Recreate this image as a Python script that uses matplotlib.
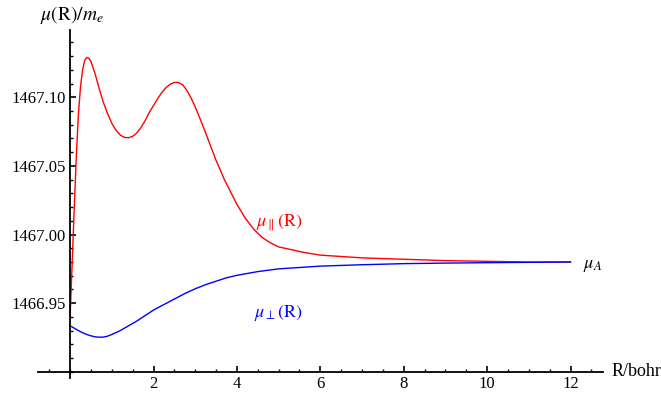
import numpy as np
import matplotlib.pyplot as plt
from matplotlib.ticker import MultipleLocator, FixedLocator

plt.rcParams['font.family'] = ['Liberation Serif', 'DejaVu Serif']
plt.rcParams['mathtext.fontset'] = 'stix'

## the data
r_par = [0.00, 0.05, 0.10, 0.15, 0.20, 0.25, 0.30, 0.35, 0.40, 0.45,
         0.50, 0.60, 0.70, 0.80, 0.90, 1.00, 1.10, 1.20, 1.30, 1.40,
         1.50, 1.60, 1.70, 1.80, 1.90, 2.00, 2.10, 2.20, 2.30, 2.40,
         2.50, 2.60, 2.70, 2.80, 2.90, 3.00, 3.10, 3.20, 3.30, 3.40,
         3.50, 3.60, 3.70, 3.80, 3.90, 4.00, 4.20, 4.40, 4.60, 4.80,
         5.00, 5.30, 5.60, 6.00, 6.50, 7.00, 8.00, 9.00, 10.0, 11.0, 12.0]
mu_par = [1466.940, 1466.980, 1467.020, 1467.058, 1467.088, 1467.108, 1467.120, 1467.127, 1467.129, 1467.1285,
          1467.126, 1467.117, 1467.106, 1467.096, 1467.088, 1467.081, 1467.076, 1467.0725, 1467.0708, 1467.0705,
          1467.0715, 1467.074, 1467.078, 1467.083, 1467.089, 1467.094, 1467.099, 1467.1035, 1467.107, 1467.1095,
          1467.1108, 1467.1108, 1467.109, 1467.105, 1467.0995, 1467.093, 1467.0855, 1467.078, 1467.070, 1467.062,
          1467.054, 1467.047, 1467.040, 1467.034, 1467.028, 1467.022, 1467.012, 1467.004, 1466.998, 1466.994,
          1466.991, 1466.989, 1466.987, 1466.985, 1466.984, 1466.983, 1466.982, 1466.981, 1466.9805, 1466.980, 1466.980]

r_perp = [0.0, 0.1, 0.2, 0.3, 0.4, 0.5, 0.6, 0.7, 0.8, 0.9,
          1.0, 1.2, 1.4, 1.6, 1.8, 2.0, 2.25, 2.5, 2.75, 3.0,
          3.25, 3.5, 3.75, 4.0, 4.5, 5.0, 5.5, 6.0, 7.0, 8.0,
          9.0, 10.0, 12.0]
mu_perp = [1466.9335, 1466.9318, 1466.930, 1466.9285, 1466.9272, 1466.9262, 1466.9255, 1466.9252, 1466.9253, 1466.926,
           1466.9272, 1466.930, 1466.9335, 1466.937, 1466.941, 1466.945, 1466.949, 1466.953, 1466.957, 1466.9605,
           1466.9635, 1466.966, 1466.9685, 1466.9703, 1466.973, 1466.975, 1466.976, 1466.977, 1466.978, 1466.9788,
           1466.9792, 1466.9795, 1466.980]

y0 = 1466.90
x_ticks = [2, 4, 6, 8, 10, 12]
y_ticks = [1466.95, 1467.00, 1467.05, 1467.10]

fig = plt.figure(figsize=(6.61, 3.94), dpi=100)
ax = fig.add_axes([0.0575, 0.0406, 0.8548, 0.8833])

ax.plot(r_par, mu_par, color='#ff0000', lw=1.0)
ax.plot(r_perp, mu_perp, color='#0000ff', lw=1.0)

ax.set_xlim(-0.77, 12.78)
ax.set_ylim(1466.8955, 1467.149)

# mathematica style axes crossing at the origin
ax.spines['left'].set_position(('data', 0))
ax.spines['bottom'].set_position(('data', y0))
ax.spines['right'].set_visible(False)
ax.spines['top'].set_visible(False)
ax.spines['left'].set_linewidth(1.3)
ax.spines['bottom'].set_linewidth(1.3)

ax.xaxis.set_major_locator(FixedLocator(x_ticks))
ax.xaxis.set_minor_locator(MultipleLocator(0.5))
ax.yaxis.set_major_locator(FixedLocator(y_ticks))
ax.yaxis.set_minor_locator(MultipleLocator(0.01))
ax.set_yticklabels(['%.2f' % v for v in y_ticks])
ax.tick_params(which='major', direction='in', length=4, width=1.2, labelsize=12, pad=3)
ax.tick_params(which='minor', direction='in', length=2.5, width=1.0)

# axis labels
fig.text(40 / 661, 1 - 15 / 394, r'$\mu(\mathrm{R})/m_e$', fontsize=14, va='center', ha='left')
fig.text(612 / 661, 1 - 372 / 394, 'R/bohr', fontsize=13, va='center', ha='left')

# curve labels
ax.text(4.45, 1467.008, r'$\mu_{\parallel}(\mathrm{R})$', color='#ff0000', fontsize=13, ha='left', va='center')
ax.text(4.4, 1466.943, r'$\mu_{\perp}(\mathrm{R})$', color='#0000ff', fontsize=13, ha='left', va='center')
ax.text(12.3, 1466.9775, r'$\mu_A$', color='black', fontsize=13, ha='left', va='center')

fig.savefig('out.png', dpi=100)
